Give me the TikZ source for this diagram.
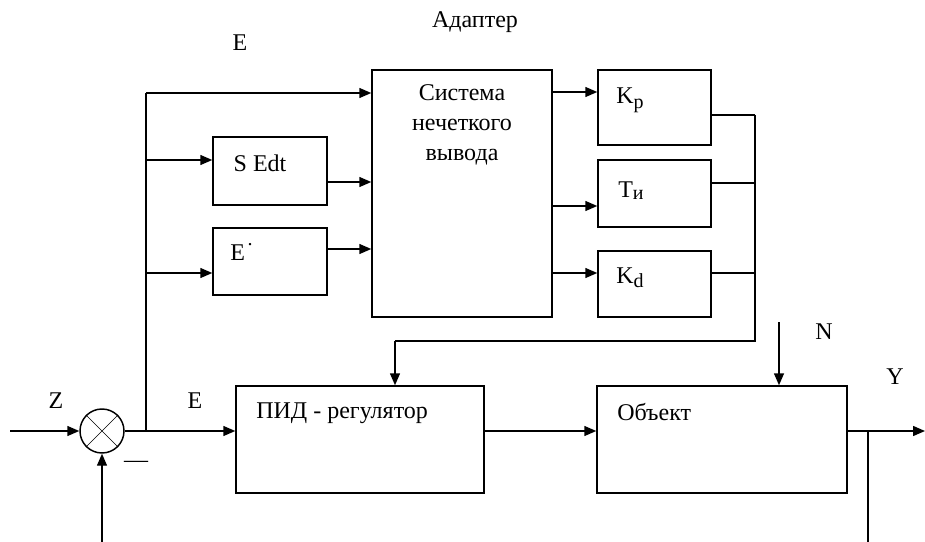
\documentclass[tikz,border=0pt]{standalone}
\usepackage{fontspec}
\setmainfont{Liberation Serif}
\usetikzlibrary{arrows.meta}
\newcommand{\subfs}{\fontsize{15}{16}\selectfont}
\tikzset{
  ln/.style={line width=1.1pt},
  arr/.style={ln,-{Triangle[length=9pt,width=7.5pt]}},
  blk/.style={draw,ln,rectangle,inner sep=0pt},
  txt/.style={inner sep=0pt,font=\fontsize{18}{22}\selectfont},
}
\begin{document}
\begin{tikzpicture}[x=0.75pt,y=-0.75pt]
\useasboundingbox (0,0) rectangle (925,542);
% blocks
\node[blk,minimum width=135pt,minimum height=185.25pt] (sys) at (462,193.5) {};
\node[blk,minimum width=85.5pt,minimum height=51pt] (sedt) at (270,171) {};
\node[blk,minimum width=85.5pt,minimum height=50.25pt] (ed) at (270,261.5) {};
\node[blk,minimum width=84.75pt,minimum height=56.25pt] (kp) at (654.5,107.5) {};
\node[blk,minimum width=84.75pt,minimum height=50.25pt] (ti) at (654.5,193.5) {};
\node[blk,minimum width=84.75pt,minimum height=49.5pt] (kd) at (654.5,284) {};
\node[blk,minimum width=186pt,minimum height=80.25pt] (pid) at (360,439.5) {};
\node[blk,minimum width=187.5pt,minimum height=80.25pt] (obj) at (722,439.5) {};
\node[draw,ln,circle,inner sep=0pt,minimum size=33pt] (comp) at (102,431) {};
\draw[line width=0.5pt] (comp.45) -- (comp.225) (comp.135) -- (comp.315);
% texts
\node[txt] (tad) at (475,22) {Адаптер};
\node[txt] (te1) at (240,43) {E};
\node[txt] (tz) at (56,401) {Z};
\node[txt] (te2) at (195,401) {E};
\node[txt] (tminus) at (136,464) {—};
\node[txt] (tn) at (824,332) {N};
\node[txt] (ty) at (895,377) {Y};
\node[txt,align=center,font=\fontsize{18}{22.5}\selectfont] (tsys) at (462,125) {Система\\нечеткого\\вывода};
\node[txt] (tsedt) at (260,163) {S Edt};
\node[txt,anchor=west] (ted) at (230,252) {E\hspace{2pt}\raisebox{0.62em}{\subfs .}};
\node[txt] (tkp) at (630,100) {K\raisebox{-0.22em}{\subfs p}};
\node[txt] (tti) at (631,191) {T\raisebox{-0.08em}{\subfs и}};
\node[txt] (tkd) at (630,278) {K\raisebox{-0.16em}{\subfs d}};
\node[txt,anchor=west] (tpid) at (256,413) {ПИД - регулятор};
\node[txt,anchor=west] (tobj) at (617,412) {Объект};
% connectors
\coordinate (zin) at (10,431);
\coordinate (fbin) at (102,542);
\coordinate (br) at (146,431);
\coordinate (b1) at (146,93);
\coordinate (b2) at (146,160);
\coordinate (b3) at (146,273);
\coordinate (bus1) at (755,115);
\coordinate (bus2) at (755,183);
\coordinate (bus3) at (755,273);
\coordinate (bus4) at (755,341);
\coordinate (pidin) at (395,341);
\coordinate (nin) at (779,322);
\coordinate (yout) at (925,431);
\coordinate (yb) at (868,431);
\coordinate (yend) at (868,542);
\draw[arr] (zin) -- (comp.west);
\draw[arr] (fbin) -- (comp.south);
\draw[arr] (comp.east) -- (comp.east -| pid.west);
\draw[ln] (br) -- (b1);
\draw[arr] (b1) -- (b1 -| sys.west);
\draw[arr] (b2) -- (b2 -| sedt.west);
\draw[arr] (b3) -- (b3 -| ed.west);
\draw[arr] (sedt.east |- 0,182) -- (sys.west |- 0,182);
\draw[arr] (ed.east |- 0,249) -- (sys.west |- 0,249);
\draw[arr] (sys.east |- 0,92) -- (kp.west |- 0,92);
\draw[arr] (sys.east |- 0,206) -- (ti.west |- 0,206);
\draw[arr] (sys.east |- 0,273) -- (kd.west |- 0,273);
\draw[ln] (kp.east |- bus1) -- (bus1);
\draw[ln] (ti.east |- bus2) -- (bus2);
\draw[ln] (kd.east |- bus3) -- (bus3);
\draw[ln] (bus1) -- (bus4) -- (pidin);
\draw[arr] (pidin) -- (pidin |- pid.north);
\draw[arr] (pid.east |- 0,431) -- (obj.west |- 0,431);
\draw[arr] (nin) -- (nin |- obj.north);
\draw[arr] (obj.east |- yout) -- (yout);
\draw[ln] (yb) -- (yend);
\end{tikzpicture}
\end{document}
